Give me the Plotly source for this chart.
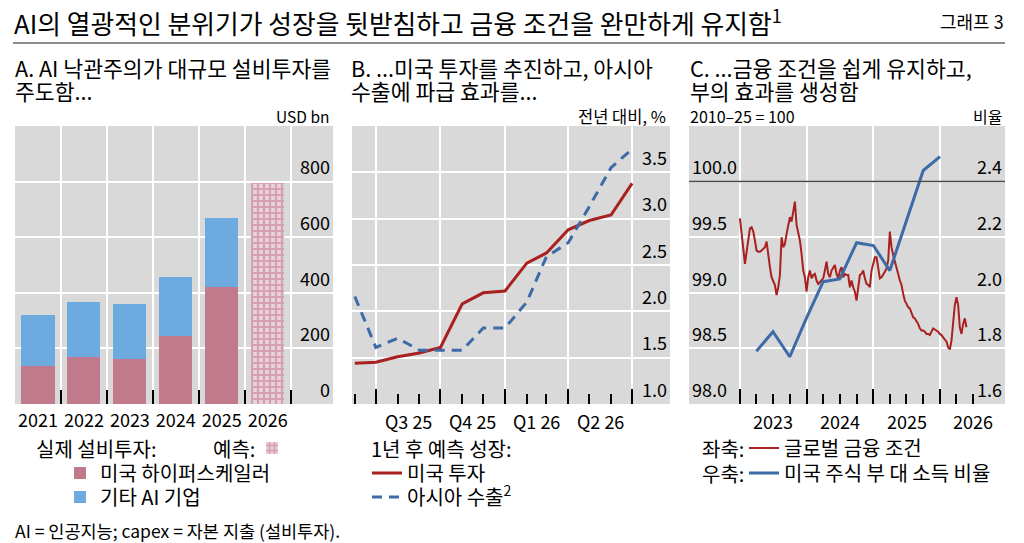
import pandas as pd
import plotly.graph_objects as go

W, H = 1024, 543
FONT = "Noto Sans CJK KR"

# Panel A: AI capex, USD bn
capex_years = ["2021", "2022", "2023", "2024", "2025", "2026"]
us_hyperscalers = [138, 170, 162, 243, 420, None]
other_ai_firms = [181, 196, 198, 215, 250, None]
capex_forecast = [None, None, None, None, None, 796]

# Panel B: one-year-ahead forecast growth, % yoy
forecast_months = ["2025-06-01", "2025-07-01", "2025-08-01", "2025-09-01", "2025-10-01",
                   "2025-11-01", "2025-12-01", "2026-01-01", "2026-02-01", "2026-03-01",
                   "2026-04-01", "2026-05-01", "2026-06-01", "2026-07-01"]
us_investment = [1.44, 1.45, 1.51, 1.55, 1.61, 2.08, 2.20, 2.22, 2.52, 2.63, 2.88, 2.98, 3.04, 3.38]
asia_exports = [2.16, 1.61, 1.71, 1.58, 1.58, 1.58, 1.82, 1.82, 2.10, 2.59, 2.74, 3.13, 3.55, 3.75]
quarter_labels = ["Q3 25", "Q4 25", "Q1 26", "Q2 26"]
quarter_starts = ["2025-07-01", "2025-10-01", "2026-01-01", "2026-04-01", "2026-07-01"]

# Panel C: global financial conditions (2010-25 = 100) and US equity wealth to income
fci_values = [
    99.67, 99.50, 99.40, 99.26, 99.37, 99.47, 99.58, 99.59, 99.55, 99.47,
    99.38, 99.37, 99.37, 99.38, 99.40, 99.41, 99.46, 99.32, 99.23, 99.14,
    99.10, 99.07, 98.98, 99.05, 99.16, 99.50, 99.41, 99.44, 99.53, 99.61,
    99.68, 99.64, 99.74, 99.82, 99.61, 99.53, 99.47, 99.35, 99.20, 99.14,
    99.01, 99.14, 99.20, 99.13, 99.16, 99.17, 99.11, 99.08, 99.10, 99.11,
    99.13, 99.20, 99.28, 99.17, 99.14, 99.20, 99.22, 99.25, 99.17, 99.13,
    99.20, 99.23, 99.14, 99.17, 99.16, 99.16, 99.05, 99.11, 99.05, 99.01,
    98.93, 99.07, 99.16, 99.17, 99.20, 99.13, 99.08, 99.07, 99.05, 99.20,
    99.25, 99.32, 99.32, 99.23, 99.13, 99.14, 99.16, 99.19, 99.22, 99.29,
    99.55, 99.41, 99.34, 99.29, 99.23, 99.17, 99.11, 99.07, 98.99, 98.93,
    98.90, 98.87, 98.86, 98.81, 98.78, 98.77, 98.75, 98.72, 98.68, 98.66,
    98.66, 98.65, 98.63, 98.63, 98.62, 98.65, 98.68, 98.67, 98.66, 98.65,
    98.63, 98.62, 98.60, 98.58, 98.56, 98.51, 98.49, 98.57, 98.75, 98.89,
    98.96, 98.89, 98.69, 98.63, 98.72, 98.77, 98.69,
]
fci_dates = pd.date_range("2023-01-01", "2026-05-26", periods=len(fci_values))
wealth_quarters = ["2023-04-01", "2023-07-01", "2023-10-01", "2024-01-01", "2024-04-01",
                   "2024-07-01", "2024-10-01", "2025-01-01", "2025-04-01", "2025-07-01",
                   "2025-10-01", "2026-01-01"]
wealth_ratio = [1.79, 1.86, 1.77, 1.91, 2.04, 2.05, 2.18, 2.17, 2.08, 2.26, 2.44, 2.49]
year_labels = ["2023", "2024", "2025", "2026"]

PINK = "#C07A8B"
LIGHT_BLUE = "#6CAAE0"
RED = "#A8201F"
BLUE = "#3D6BA7"
GRID = "#FFFFFF"
BG = "#D9D9D9"


def px_x(x):
    return x / W


def px_y(y):
    return 1 - y / H


def legend_box(x, y):
    return dict(x=px_x(x), y=px_y(y), xanchor="left", yanchor="middle",
                bgcolor="rgba(0,0,0,0)", borderwidth=0, itemwidth=30,
                font=dict(family=FONT, size=20, color="black"))


fig = go.Figure()

fig.add_trace(go.Bar(x=capex_years, y=us_hyperscalers, name="미국 하이퍼스케일러",
                     marker=dict(color=PINK, line_width=0), width=0.72, showlegend=True,
                     xaxis="x", yaxis="y", legend="legend"))
fig.add_trace(go.Bar(x=capex_years, y=other_ai_firms, name="기타 AI 기업",
                     marker=dict(color=LIGHT_BLUE, line_width=0), width=0.72, showlegend=True,
                     xaxis="x", yaxis="y", legend="legend2"))
fig.add_trace(go.Bar(x=capex_years, y=capex_forecast, name=" ", showlegend=True,
                     marker=dict(color="#E8D3D9", line_width=0,
                                 pattern=dict(shape="+", fgcolor="#C66E8C", bgcolor="#E8D3D9",
                                              size=6, solidity=0.6)),
                     width=0.72, xaxis="x", yaxis="y", legend="legend3"))

fig.add_trace(go.Scatter(x=forecast_months, y=us_investment, mode="lines", name="미국 투자",
                         line=dict(color=RED, width=3), showlegend=True,
                         xaxis="x2", yaxis="y2", legend="legend4"))
fig.add_trace(go.Scatter(x=forecast_months, y=asia_exports, mode="lines",
                         name="아시아 수출<sup>2</sup>", showlegend=True,
                         line=dict(color=BLUE, width=3, dash="10px,7px"),
                         xaxis="x2", yaxis="y2", legend="legend5"))

fig.add_trace(go.Scatter(x=fci_dates, y=fci_values, mode="lines", name="글로벌 금융 조건",
                         line=dict(color=RED, width=2), showlegend=True,
                         xaxis="x3", yaxis="y3", legend="legend6"))
fig.add_trace(go.Scatter(x=wealth_quarters, y=wealth_ratio, mode="lines",
                         name="미국 주식 부 대 소득 비율", showlegend=True,
                         line=dict(color=BLUE, width=3), xaxis="x3", yaxis="y4", legend="legend7"))

y_dom = [px_y(404), px_y(126)]
tickfont = dict(family=FONT, size=18, color="black")
xtickfont = dict(family=FONT, size=18, color="black")

common_y = dict(domain=y_dom, showgrid=True, gridcolor=GRID, gridwidth=1.5, zeroline=False,
                ticks="", ticklabelposition="inside top", ticklabelshift=-1, tickfont=tickfont,
                showline=False)

fig.update_layout(
    width=W, height=H,
    margin=dict(l=0, r=0, t=0, b=0),
    paper_bgcolor="white", plot_bgcolor=BG,
    barmode="stack", showlegend=True,
    font=dict(family=FONT, color="black"),
    xaxis=dict(domain=[px_x(15), px_x(333)], type="category", range=[-0.5, 6.42],
               tickson="boundaries", ticks="inside", ticklen=14, tickwidth=1.5, tickcolor="black",
               showgrid=True, gridcolor=GRID, gridwidth=1.5, tickfont=xtickfont, tickangle=0,
               ticklabelstandoff=4, anchor="y", showline=False),
    yaxis=dict(common_y, anchor="x", side="right", range=[0, 1000],
               tickvals=[0, 200, 400, 600, 800]),
    xaxis2=dict(domain=[px_x(352), px_x(670)], type="date", range=["2025-05-28", "2026-08-24"],
                tickmode="array", tickvals=quarter_starts, showticklabels=False,
                ticks="inside", ticklen=15, tickwidth=1.5, tickcolor="black",
                minor=dict(dtick="M1", tick0="2025-06-01", ticks="inside", ticklen=10,
                           tickwidth=1.5, tickcolor="black", showgrid=False),
                showgrid=True, gridcolor=GRID, gridwidth=1.5, anchor="y2", showline=False),
    yaxis2=dict(common_y, anchor="x2", side="right", range=[1, 4],
                tickvals=[1.0, 1.5, 2.0, 2.5, 3.0, 3.5], tickformat=".1f"),
    xaxis3=dict(domain=[px_x(689), px_x(1005)], type="date", range=["2022-03-28", "2026-12-23"],
                dtick="M12", tick0="2023-01-01", showticklabels=False,
                ticks="inside", ticklen=15, tickwidth=1.5, tickcolor="black",
                minor=dict(tickmode="array",
                           tickvals=pd.date_range("2023-04-01", "2026-10-01", freq="QS"),
                           ticks="inside", ticklen=10, tickwidth=1.5, tickcolor="black",
                           showgrid=False),
                showgrid=True, gridcolor=GRID, gridwidth=1.5, anchor="y3", showline=False),
    yaxis3=dict(common_y, anchor="x3", side="left", range=[98, 100.5],
                tickvals=[98.0, 98.5, 99.0, 99.5, 100.0], tickformat=".1f"),
    yaxis4=dict(common_y, anchor="x3", overlaying="y3", side="right", range=[1.6, 2.6],
                tickvals=[1.6, 1.8, 2.0, 2.2, 2.4], tickformat=".1f", showgrid=False),
    legend=legend_box(60, 473),
    legend2=legend_box(60, 497),
    legend3=legend_box(252, 448),
    legend4=legend_box(367, 473),
    legend5=legend_box(367, 497),
    legend6=legend_box(744, 448),
    legend7=legend_box(744, 473),
)

# reference line at 100 in panel C
fig.add_shape(type="line", xref="x3 domain", yref="y3", x0=0, x1=1, y0=100, y1=100,
              line=dict(color="#4A4A4A", width=1.5))
# rule under the title
fig.add_shape(type="line", xref="paper", yref="paper", x0=px_x(13), x1=px_x(1005),
              y0=px_y(43), y1=px_y(43), line=dict(color="#666666", width=1.5))


def text(x, y, s, size, anchor="left", **kw):
    fig.add_annotation(x=px_x(x), y=px_y(y), xref="paper", yref="paper", text=s,
                       showarrow=False, xanchor=anchor, yanchor="middle", align=anchor,
                       font=dict(family=FONT, size=size, color="black"), **kw)


text(12, 21, "AI의 열광적인 분위기가 성장을 뒷받침하고 금융 조건을 완만하게 유지함<sup>1</sup>", 25.8)
text(1006, 21, "그래프 3", 18, anchor="right")

text(13, 67, "A. AI 낙관주의가 대규모 설비투자를", 21.6)
text(13, 90, "주도함...", 21.6)
text(349, 67, "B. ...미국 투자를 추진하고, 아시아", 21.6)
text(349, 90, "수출에 파급 효과를...", 21.6)
text(688, 67, "C. ...금융 조건을 쉽게 유지하고,", 21.6)
text(688, 90, "부의 효과를 생성함", 21.6)

text(331, 116, "USD bn", 15.5, anchor="right")
text(668, 116, "전년 대비, %", 16.5, anchor="right")
text(688, 116, "2010–25 = 100", 16)
text(1004, 116, "비율", 16, anchor="right")

# period labels centred between the gridlines
for i, lab in enumerate(quarter_labels):
    a, b = pd.Timestamp(quarter_starts[i]), pd.Timestamp(quarter_starts[i + 1])
    fig.add_annotation(x=a + (b - a) / 2, y=px_y(421), xref="x2", yref="paper", text=lab,
                       showarrow=False, yanchor="middle", font=xtickfont)
for lab in year_labels:
    fig.add_annotation(x=f"{lab}-07-02", y=px_y(421), xref="x3", yref="paper", text=lab,
                       showarrow=False, yanchor="middle", font=xtickfont)

text(34, 448, "실제 설비투자:", 20)
text(211, 448, "예측:", 20)
text(369, 448, "1년 후 예측 성장:", 20)
text(700, 448, "좌축:", 20)
text(700, 473, "우축:", 20)

text(13, 530, "AI = 인공지능; capex = 자본 지출 (설비투자).", 17.5)

fig.write_html("out.html", config={"displayModeBar": False},
               post_script="document.body.style.margin='0px';document.body.style.overflow='hidden';")
